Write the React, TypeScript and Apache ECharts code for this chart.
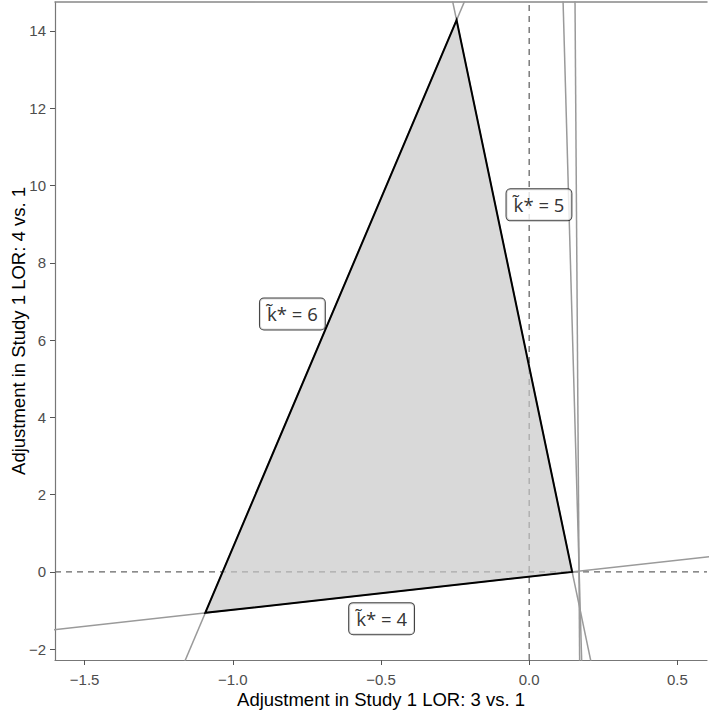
import React, { useEffect, useRef } from "react";
import * as echarts from "echarts";

const xTicks = [-1.5, -1.0, -0.5, 0.0, 0.5];
const yTicks = [-2, 0, 2, 4, 6, 8, 10, 12, 14];
const xRange = [-1.6, 0.6];
const yRange = [-2.28, 14.75];

// feasible region (triangle)
const regionVertices: number[][] = [
  [-0.245, 14.28],
  [-1.093, -1.06],
  [0.145, 0.0],
];

// constraint lines (pairs of points, clipped by the plot)
const lineAB: number[][] = [[-1.2, -3], [-0.15, 16]];
const lineCA: number[][] = [[0.227, -3], [-0.292, 16]];
const lineBC: number[][] = [[-1.7, -1.58], [0.7, 0.475]];
const lineV1: number[][] = [[0.1797, -3], [0.1098, 16]];
const lineV2: number[][] = [[0.1709, -3], [0.1535, 16]];
const boundaryLines = [lineAB, lineCA, lineBC, lineV1, lineV2];

const labelTexts = ["k\u0303* = 6", "k\u0303* = 5", "k\u0303* = 4"];
const labelPositions: number[][] = [
  [-0.799, 6.675],
  [0.033, 9.5],
  [-0.498, -1.21],
];

const fmtMinus = (v: number, d: number) => {
  const s = d > 0 ? v.toFixed(d) : String(v);
  return s.replace("-", "\u2212");
};

export default function App() {
  const ref = useRef<HTMLDivElement>(null);
  useEffect(() => {
    if (!ref.current) return;
    const chart = echarts.init(ref.current, undefined, { renderer: "svg" });
    const font = "'Liberation Sans', Arial, sans-serif";
    const series: any[] = [];

    series.push({
      type: "line",
      data: [[xRange[0], 0], [xRange[1], 0]],
      symbol: "none",
      lineStyle: { color: "#666", width: 1.3, type: [6, 5] },
      z: 1,
      silent: true,
    });
    series.push({
      type: "line",
      data: [[0, yRange[0]], [0, yRange[1]]],
      symbol: "none",
      lineStyle: { color: "#666", width: 1.3, type: [6, 5] },
      z: 1,
      silent: true,
    });
    boundaryLines.forEach((ln) => {
      series.push({
        type: "line",
        data: ln,
        symbol: "none",
        clip: true,
        lineStyle: { color: "#9a9a9a", width: 1.5 },
        z: 2,
        silent: true,
      });
    });
    series.push({
      type: "custom",
      data: [regionVertices[0]],
      clip: true,
      z: 3,
      silent: true,
      renderItem: (_p: any, api: any) => {
        const pts = regionVertices.map((v) => api.coord(v));
        return {
          type: "polygon",
          shape: { points: pts },
          style: {
            fill: "rgba(200,200,200,0.69)",
            stroke: "#000",
            lineWidth: 2,
            lineJoin: "miter",
          },
        };
      },
    });
    series.push({
      type: "scatter",
      data: labelPositions.map((p, i) => ({ value: p, name: labelTexts[i] })),
      symbolSize: 1,
      itemStyle: { color: "rgba(0,0,0,0)" },
      z: 5,
      silent: true,
      label: {
        show: true,
        position: "inside",
        formatter: (p: any) => p.name,
        fontFamily: "'Noto Sans', 'Liberation Sans', sans-serif",
        fontSize: 18.5,
        lineHeight: 25,
        color: "#000",
        backgroundColor: "#fff",
        borderColor: "#111",
        borderWidth: 1,
        borderRadius: 4,
        padding: [5, 7, 1, 7],
      },
    });

    chart.setOption({
      animation: false,
      grid: {
        left: 55,
        right: 2,
        top: 2,
        bottom: 60,
        containLabel: false,
        outerBoundsMode: "none",
      },
      xAxis: [
        {
          type: "value",
          min: xRange[0],
          max: xRange[1],
          name: "Adjustment in Study 1 LOR: 3 vs. 1",
          nameLocation: "middle",
          nameGap: 30,
          nameMoveOverlap: false,
          nameTextStyle: { fontFamily: font, fontSize: 18.5, color: "#000" },
          splitLine: { show: false },
          axisLine: { show: true, onZero: false, lineStyle: { color: "#777", width: 1.2 } },
          axisTick: {
            show: true,
            length: 5,
            customValues: xTicks,
            lineStyle: { color: "#555" },
          },
          axisLabel: {
            customValues: xTicks,
            margin: 12,
            fontFamily: font,
            fontSize: 15,
            color: "#4d4d4d",
            formatter: (v: number) => fmtMinus(v, 1),
          },
        },
        {
          type: "value",
          position: "top",
          min: xRange[0],
          max: xRange[1],
          splitLine: { show: false },
          axisLine: { show: true, onZero: false, lineStyle: { color: "#888", width: 1.5 } },
          axisTick: { show: false },
          axisLabel: { show: false },
        },
      ],
      yAxis: {
        type: "value",
        min: yRange[0],
        max: yRange[1],
        name: "Adjustment in Study 1 LOR: 4 vs. 1",
        nameLocation: "middle",
        nameGap: 27,
        nameMoveOverlap: false,
        nameTextStyle: { fontFamily: font, fontSize: 18.5, color: "#000" },
        splitLine: { show: false },
        axisLine: { show: true, onZero: false, lineStyle: { color: "#777", width: 1.2 } },
        axisTick: {
          show: true,
          length: 5,
          customValues: yTicks,
          lineStyle: { color: "#555" },
        },
        axisLabel: {
          customValues: yTicks,
          margin: 9,
          fontFamily: font,
          fontSize: 15,
          color: "#4d4d4d",
          formatter: (v: number) => fmtMinus(v, 0),
        },
      },
      series,
    });
    return () => chart.dispose();
  }, []);
  return (
    <div
      ref={ref}
      style={{ position: "fixed", left: 0, top: 0, width: 709, height: 720, background: "#fff" }}
    />
  );
}
